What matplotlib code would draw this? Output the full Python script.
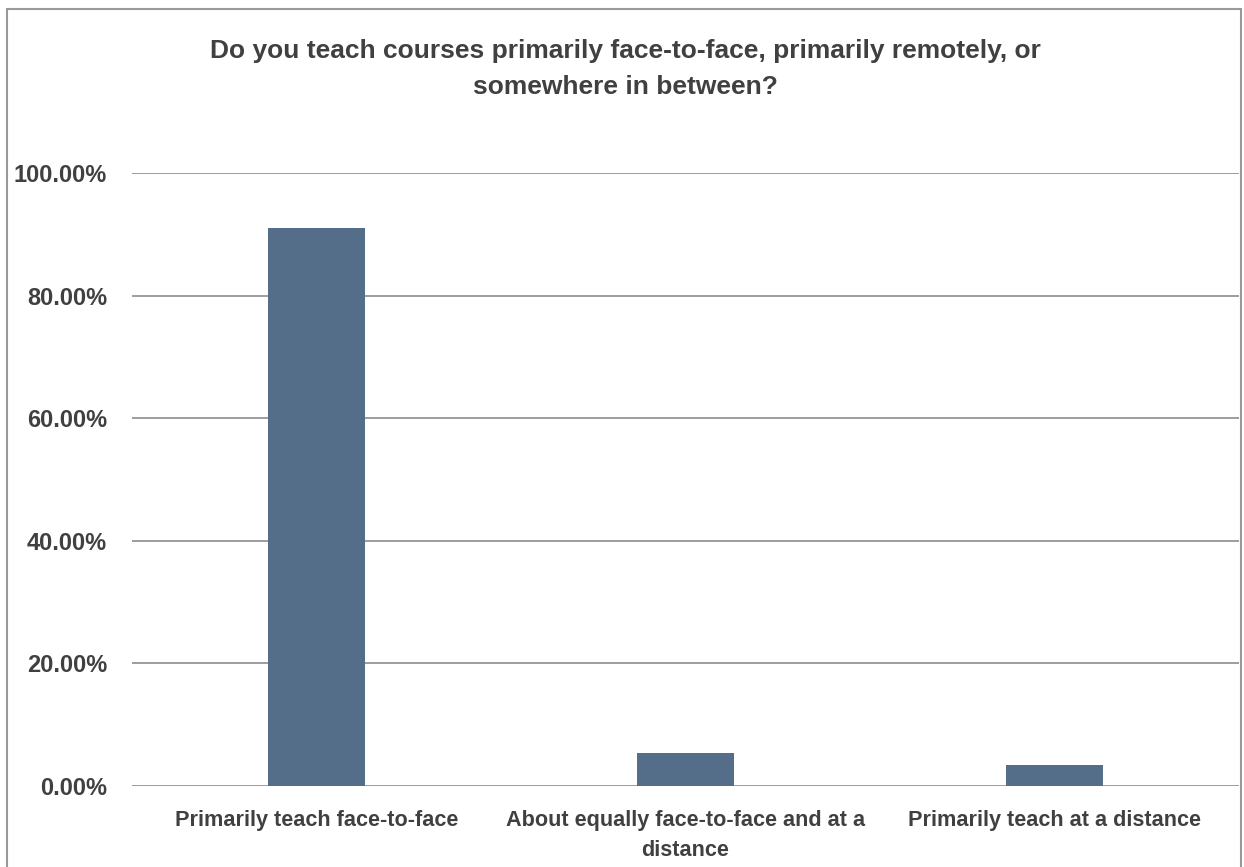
import matplotlib
matplotlib.use("Agg")
import matplotlib.pyplot as plt
from matplotlib.patches import Rectangle
from matplotlib.ticker import PercentFormatter

categories = [
    "Primarily teach face-to-face",
    "About equally face-to-face and at a\ndistance",
    "Primarily teach at a distance",
]
shares = [0.911, 0.054, 0.035]
y_ticks = [0.0, 0.2, 0.4, 0.6, 0.8, 1.0]
title = "Do you teach courses primarily face-to-face, primarily remotely, or\nsomewhere in between?"

bar_color = "#546E8A"
text_color = "#404040"
grid_color = "#8C8C8C"
fonts = ["Liberation Sans", "DejaVu Sans"]

W, H = 1244, 867
fig = plt.figure(figsize=(W / 100, H / 100), dpi=100)
fig.patch.set_facecolor("white")

ax = fig.add_axes([132 / W, 1 - 786 / H, (1239 - 132) / W, (786 - 173) / H])
x = list(range(len(categories)))
ax.bar(x, shares, width=0.263, color=bar_color, zorder=3)

ax.set_xlim(-0.5, len(categories) - 0.5)
ax.set_ylim(0, 1.0)
ax.set_yticks(y_ticks)
ax.yaxis.set_major_formatter(PercentFormatter(xmax=1.0, decimals=2))
ax.set_xticks(x)
ax.set_xticklabels(categories)

for s in ax.spines.values():
    s.set_visible(False)
ax.grid(axis="y", color=grid_color, linewidth=1.2, zorder=0)
ax.set_axisbelow(True)
ax.tick_params(axis="both", length=0)
ax.tick_params(axis="y", pad=18)
ax.tick_params(axis="x", pad=17)

for lbl in ax.get_yticklabels():
    lbl.set_fontfamily(fonts)
    lbl.set_fontweight("bold")
    lbl.set_fontsize(17)
    lbl.set_color(text_color)
for lbl in ax.get_xticklabels():
    lbl.set_fontfamily(fonts)
    lbl.set_fontweight("bold")
    lbl.set_fontsize(15.6)
    lbl.set_color(text_color)
    lbl.set_linespacing(1.6)

fig.text(625 / W, 1 - 69 / H, title, ha="center", va="center",
         fontsize=19, fontweight="bold", color=text_color,
         family=fonts, linespacing=1.65)

# outer frame around the chart
frame = Rectangle((7.5 / W, -0.05), (1241 - 7.5) / W, 1 - 9 / H + 0.05,
                  transform=fig.transFigure, fill=False,
                  edgecolor="#9A9A9A", linewidth=1.5, clip_on=False)
fig.patches.append(frame)

fig.savefig("out.png", dpi=100, facecolor="white")
